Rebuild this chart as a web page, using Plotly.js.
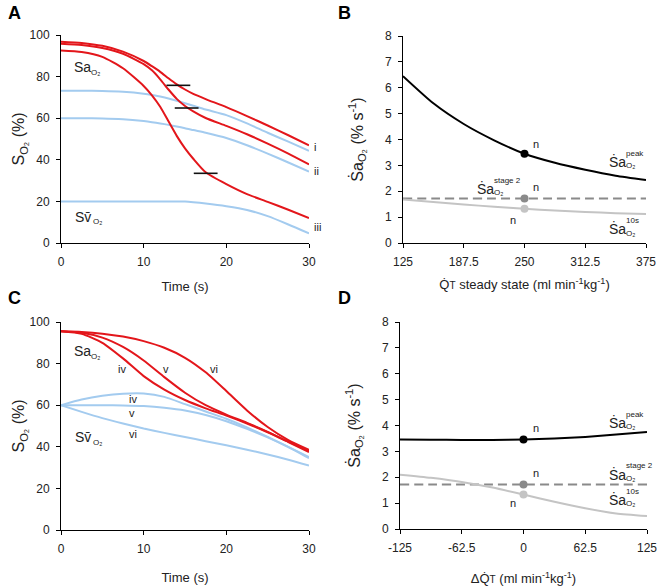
<!DOCTYPE html>
<html><head><meta charset="utf-8">
<script src="https://cdn.plot.ly/plotly-3.0.1.min.js"></script>
<style>html,body{margin:0;padding:0;background:#fff}</style>
</head><body><div id="chart" style="width:661px;height:586px"></div>
<script>
// ---------- Panel A data ----------
const tA = [0,2.5,5,7.5,10,11,12,13,14,15,16,17.5,20,22.5,25,27.5,30];
const saA_i   = [96.8,96.2,94.8,92,87.5,85,82.3,79.2,76.3,73.8,71.7,69.2,65.3,61,56.5,51.8,47];
const saA_ii  = [95.8,95.2,93.8,91,86,83,78.7,73.8,69.3,65.9,63.3,60.1,56.3,52.3,47.8,43,37.8];
const saA_iii = [92.5,91.8,89.5,84,75.5,71,65.5,58.5,51.5,45.5,40.5,34,28.3,23.5,19.8,16,12];
const svA_i   = [73.2,73.2,73.1,72.7,71.8,71.2,70.4,69.5,68.4,67.2,66,64.2,61.5,57.5,53,48.7,44.3];
const svA_ii  = [60,60,59.9,59.5,58.6,58.1,57.5,56.8,56,55.2,54.3,53,50.5,47,43,38.7,34.3];
const svA_iii = [19.9,20,20,20,20,20,20,20,20,19.9,19.6,19,17.7,15.9,12.9,8.9,4.6];
const peakMarkT = [14.2,15.2,17.5];
const peakMarkS = [75.8,64.9,33.5];
// ---------- Panel C data ----------
const tC = [0,2.5,5,7.5,10,12.5,15,17.5,20,22.5,25,27.5,30];
const saC_iv = [95.5,94.3,90,82.5,74,67.5,62.5,58.5,55,51.2,47,42.3,37.5];
const saC_v  = [95.5,94.8,92.5,88,81.5,73.5,66,60,55.5,51.5,47.2,42.5,38];
const saC_vi = [95.5,95.2,94.4,93,90.8,87.6,82.8,75.8,66.8,57.5,49.5,43.2,38.5];
const svC_iv = [60,62.7,64.5,65.5,65.6,64,60.5,57,53.5,49.3,44.8,40,35];
const svC_v  = [60,60,60,59.9,59.6,58.8,57.5,55.3,52.3,48.6,44.5,39.8,34.5];
const svC_vi = [60,56.8,53.8,51.2,48.8,46.7,44.7,42.7,40.7,38.6,36.3,33.8,31];
// ---------- Panel B data ----------
const qB = [125,156.25,187.5,218.75,250,281.25,312.5,343.75,375];
const peakB = [6.45,5.4,4.6,3.97,3.45,3.1,2.83,2.6,2.43];
const stage2B = [1.72,1.72,1.72,1.72,1.72,1.72,1.72,1.72,1.72];
const tenB = [1.68,1.58,1.49,1.4,1.32,1.26,1.2,1.15,1.12];
const nominalB = 250;
const nominalB_vals = [3.45,1.72,1.32];
const tickB = [125,187.5,250,312.5,375];
const tickB_text = ['125','187.5','250','312.5','375'];
// ---------- Panel D data ----------
const dqD = [-125,-93.75,-62.5,-31.25,0,31.25,62.5,93.75,125];
const peakD = [3.46,3.45,3.44,3.44,3.46,3.5,3.56,3.65,3.75];
const stage2D = [1.72,1.72,1.72,1.72,1.72,1.72,1.72,1.72,1.72];
const tenD = [2.1,1.98,1.82,1.6,1.33,1.05,0.8,0.6,0.5];
const nominalD = 0;
const nominalD_vals = [3.46,1.72,1.33];
const tickD = [-125,-62.5,0,62.5,125];
const tickD_text = ['-125','-62.5','0','62.5','125'];
const tickTime = [0,10,20,30];
const tickS = [0,20,40,60,80,100];
const tickRate = [0,1,2,3,4,5,6,7,8];

const RED = '#e3161b', BLUE = '#a3cbef', DGREY = '#8a8a8a', LGREY = '#c4c4c4';
const W = 661, H = 586;
const TXT = '#222';

function line(x, y, xa, ya, color, width, dash) {
  return {type:'scatter', mode:'lines', x:x, y:y, xaxis:xa, yaxis:ya,
    line:{color:color, width:width||2, dash:dash||'solid', shape:'spline', smoothing:0.6},
    hoverinfo:'skip', showlegend:false};
}
const traces = [
  line(tA, svA_i, 'x','y', BLUE), line(tA, svA_ii, 'x','y', BLUE), line(tA, svA_iii, 'x','y', BLUE),
  line(tA, saA_i, 'x','y', RED), line(tA, saA_ii, 'x','y', RED), line(tA, saA_iii, 'x','y', RED),
  {type:'scatter', mode:'markers', x:peakMarkT, y:peakMarkS, xaxis:'x', yaxis:'y',
    marker:{symbol:'line-ew', size:17, line:{color:'#111', width:1.6}}, showlegend:false, hoverinfo:'skip'},
  line(qB, peakB, 'x2','y2', '#000'),
  line(qB, stage2B, 'x2','y2', DGREY, 2, '9px,5px'),
  line(qB, tenB, 'x2','y2', LGREY),
  {type:'scatter', mode:'markers', x:[nominalB,nominalB,nominalB], y:nominalB_vals, xaxis:'x2', yaxis:'y2',
    marker:{size:8, color:['#000',DGREY,LGREY]}, showlegend:false, hoverinfo:'skip'},
  line(tC, svC_iv, 'x3','y3', BLUE), line(tC, svC_v, 'x3','y3', BLUE), line(tC, svC_vi, 'x3','y3', BLUE),
  line(tC, saC_iv, 'x3','y3', RED), line(tC, saC_v, 'x3','y3', RED), line(tC, saC_vi, 'x3','y3', RED),
  line(dqD, peakD, 'x4','y4', '#000'),
  line(dqD, stage2D, 'x4','y4', DGREY, 2, '9px,5px'),
  line(dqD, tenD, 'x4','y4', LGREY),
  {type:'scatter', mode:'markers', x:[nominalD,nominalD,nominalD], y:nominalD_vals, xaxis:'x4', yaxis:'y4',
    marker:{size:8, color:['#000',DGREY,LGREY]}, showlegend:false, hoverinfo:'skip'}
];

const FONT = 'Liberation Sans, Arial, sans-serif';
function ax(domain, range, tickvals, ticktext, title, anchor, standoff, tsize) {
  const a = {domain:domain, range:range, anchor:anchor, showgrid:false, zeroline:false,
    showline:true, linecolor:'#000', linewidth:1, ticks:'outside', ticklen:4, tickwidth:1, tickcolor:'#000',
    ticklabelstandoff:4,
    tickvals:tickvals, tickfont:{family:FONT, size:12, color:TXT}, fixedrange:true,
    title:{text:title, font:{family:FONT, size:tsize, color:TXT}, standoff:standoff}};
  if (ticktext) a.ticktext = ticktext;
  return a;
}
function px(x){return x/W;} function py(y){return 1-y/H;}
const ann = [];
function T(x, y, text, size, opts) {
  ann.push(Object.assign({x:px(x), y:py(y), xref:'paper', yref:'paper', text:text, showarrow:false,
    xanchor:'left', yanchor:'middle', font:{family:FONT, size:size, color:TXT}}, opts||{}));
}
// panel letters
const LET = {family:FONT, size:18, color:'#000'};
T(6,13,'<b>A</b>',18,{font:LET});
T(336,13,'<b>B</b>',18,{font:LET});
T(6,298,'<b>C</b>',18,{font:LET});
T(336,298,'<b>D</b>',18,{font:LET});
// Sa / Sv labels
function saLab(x,y){ T(x,y,'Sa',14); T(x+17,y+5,'O₂',8); }
function svLab(x,y){ T(x,y,'Sv̄',14); T(x+18,y+5,'O₂',8); }
saLab(72,67); svLab(73,217);
saLab(72,351); svLab(73,437);
T(312,147,'i',11); T(312,171,'ii',11); T(312,227,'iii',11);
T(122,369,'iv',11,{xanchor:'center'}); T(166,369,'v',11,{xanchor:'center'}); T(214,369,'vi',11,{xanchor:'center'});
T(133,399,'iv',11,{xanchor:'center'}); T(132,413,'v',11,{xanchor:'center'}); T(133,434,'vi',11,{xanchor:'center'});
// rate labels
function rateLab(x,y,sup){ T(x,y,'Ṡa',14); T(x+17,y-8,sup,8); T(x+17,y+4,'O₂',8); }
rateLab(607,161,'peak'); rateLab(475,188,'stage 2'); rateLab(607,229,'10s');
rateLab(607,422,'peak'); rateLab(607,474,'stage 2'); rateLab(607,499,'10s');
T(536,144,'n',11,{xanchor:'center'}); T(536,187,'n',11,{xanchor:'center'}); T(513,220,'n',11,{xanchor:'center'});
T(536,428,'n',11,{xanchor:'center'}); T(536,473,'n',11,{xanchor:'center'}); T(513,503,'n',11,{xanchor:'center'});

const ytitleS = 'S<sub>O₂</sub> (%)';
const ytitleR = 'Ṡa<sub>O₂</sub> (% s<sup>-1</sup>)';
const layout = {
  width:W, height:H, margin:{l:0,r:0,t:0,b:0}, paper_bgcolor:'#fff', plot_bgcolor:'#fff',
  showlegend:false, font:{family:FONT},
  xaxis: ax([61/W,309/W],[0,30],tickTime,null,'Time (s)','y',13,13),
  yaxis: ax([1-243/H,1-35/H],[0,100],tickS,null,ytitleS,'x',0,16),
  xaxis2: ax([403/W,646/W],[125,375],tickB,tickB_text,'Q̇<span style="font-size:10px">T</span> steady state (ml min<sup>-1</sup>kg<sup>-1</sup>)','y2',11,13),
  yaxis2: ax([1-243/H,1-36/H],[0,8],tickRate,null,ytitleR,'x2',17,16),
  xaxis3: ax([61/W,309/W],[0,30],tickTime,null,'Time (s)','y3',17,13),
  yaxis3: ax([1-530/H,1-322/H],[0,100],tickS,null,ytitleS,'x3',0,16),
  xaxis4: ax([400/W,647/W],[-125,125],tickD,tickD_text,'ΔQ̇<span style="font-size:10px">T</span> (ml min<sup>-1</sup>kg<sup>-1</sup>)','y4',20,13),
  yaxis4: ax([1-529/H,1-322/H],[0,8],tickRate,null,ytitleR,'x4',17,16),
  annotations: ann
};
Plotly.newPlot('chart', traces, layout, {displayModeBar:false, staticPlot:true});
</script></body></html>
